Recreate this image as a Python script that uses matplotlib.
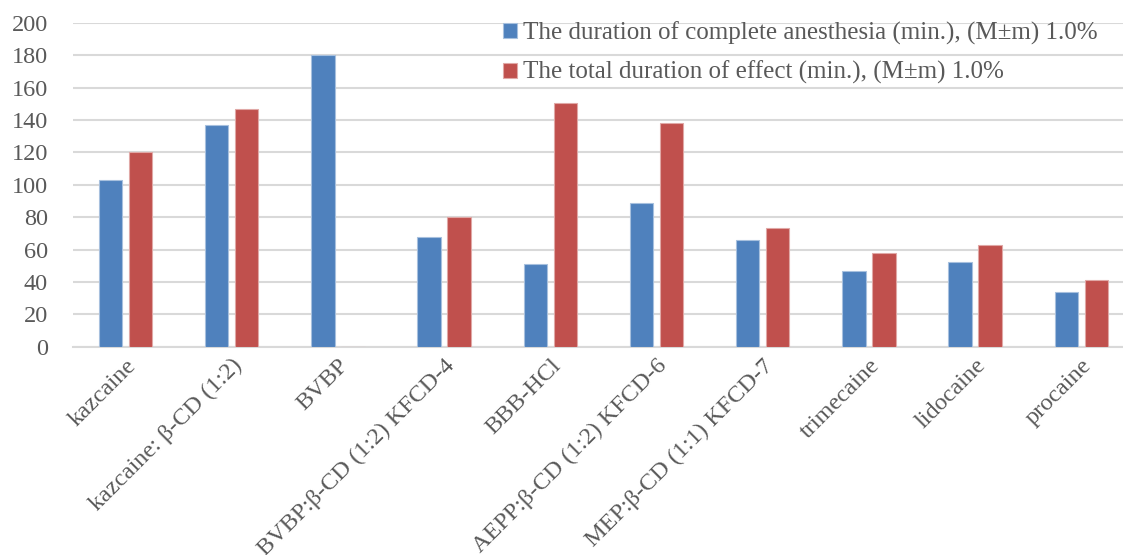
import matplotlib.pyplot as plt
import numpy as np

categories = ['kazcaine', 'kazcaine: β-CD (1:2)', 'BVBP', 'BVBP:β-CD (1:2) KFCD-4',
              'BBB-HCl', 'AEPP:β-CD (1:2) KFCD-6', 'MEP:β-CD (1:1) KFCD-7',
              'trimecaine', 'lidocaine', 'procaine']
complete_anesthesia = [103, 137, 180, 68, 51, 89, 66, 47, 52.5, 34]
total_duration = [120, 147, 0, 80, 150.5, 138, 73.5, 58, 63, 41]
series_labels = ['The duration of complete anesthesia (min.), (M±m) 1.0%',
                 'The total duration of effect (min.), (M±m) 1.0%']
y_ticks = [0, 20, 40, 60, 80, 100, 120, 140, 160, 180, 200]

plt.rcParams['font.family'] = ['Liberation Serif', 'DejaVu Serif']
text_color = '#595959'

fig = plt.figure(figsize=(11.23, 5.55), dpi=100)
ax = fig.add_axes([0.065, 0.3753, 0.935, 0.5838])

x = np.arange(len(categories))
w = 0.22
off = 0.141
ax.bar(x - off, complete_anesthesia, w, color='#4f81bd', edgecolor='#a7c0de',
       linewidth=0.8, label=series_labels[0], zorder=3)
ax.bar(x + off, total_duration, w, color='#c0504d', edgecolor='#e0a8a6',
       linewidth=0.8, label=series_labels[1], zorder=3)

ax.set_ylim(0, 200)
ax.set_xlim(-0.494, 9.393)
ax.set_yticks(y_ticks)
ax.yaxis.grid(True, color='#d9d9d9', linewidth=1.5, zorder=0)
ax.set_axisbelow(True)
for s in ['top', 'right', 'left']:
    ax.spines[s].set_visible(False)
ax.spines['bottom'].set_color('#d9d9d9')
ax.spines['bottom'].set_linewidth(1.5)
ax.tick_params(axis='both', length=0, colors=text_color, labelsize=17.5)
ax.tick_params(axis='y', pad=18)
ax.tick_params(axis='x', pad=6)

ax.set_xticks(x)
ax.set_xticklabels(categories, rotation=45, ha='right', rotation_mode='anchor')

# legend sits over the top gridlines, no frame
leg = ax.legend(loc='upper left', bbox_to_anchor=(0.4, 1.035), frameon=False,
                fontsize=18, handlelength=0.55, handleheight=0.55,
                handletextpad=0.25, labelspacing=0.65, borderaxespad=0)
for t in leg.get_texts():
    t.set_color(text_color)

fig.savefig('out.png', dpi=100)
